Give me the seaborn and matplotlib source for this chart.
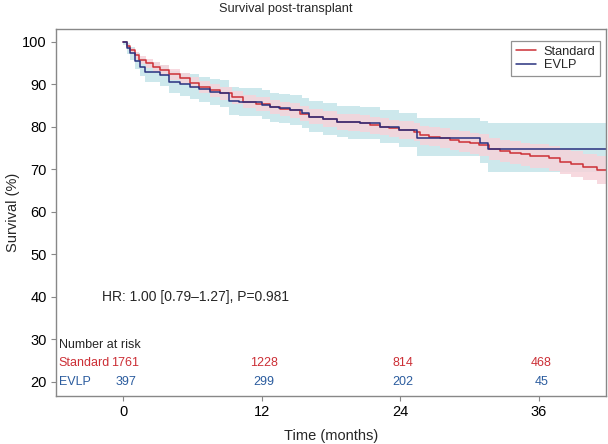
import pandas as pd
import seaborn as sns
import matplotlib.pyplot as plt

# Kaplan-Meier steps (months, % surviving)
std_t = [0, 0.3, 0.6, 1.0, 1.4, 2.0, 2.6, 3.2, 4.0, 4.9, 5.8, 6.6, 7.5, 8.4, 9.4, 10.4,
         11.5, 12.7, 13.6, 14.4, 15.3, 16.1, 17.3, 18.5, 19.5, 20.5, 21.4, 22.2, 23.0,
         23.9, 25.2, 25.7, 26.5, 27.4, 28.3, 29.1, 30.0, 30.8, 31.7, 32.6, 33.5, 34.4,
         35.2, 36.9, 37.8, 38.8, 39.8, 41.0, 41.8]
std_s = [100, 99.0, 98.0, 96.9, 95.7, 94.9, 94.1, 93.3, 92.3, 91.4, 90.4, 89.4, 88.6,
         87.9, 86.9, 85.9, 85.3, 84.6, 84.2, 83.9, 83.1, 82.4, 81.8, 81.2, 81.0, 80.8,
         80.4, 80.0, 79.6, 79.2, 78.8, 78.0, 77.7, 77.3, 76.9, 76.5, 76.1, 75.7, 74.7,
         74.3, 73.9, 73.5, 73.1, 72.6, 71.8, 71.2, 70.6, 69.8, 69.8]
std_lo = [100, 98.5, 97.3, 96.0, 94.7, 93.8, 92.9, 92.1, 91.0, 90.1, 89.0, 88.0, 87.1,
          86.4, 85.3, 84.3, 83.6, 82.9, 82.5, 82.1, 81.3, 80.6, 79.9, 79.3, 79.1, 78.8,
          78.4, 78.0, 77.5, 77.1, 76.7, 75.8, 75.5, 75.0, 74.6, 74.1, 73.7, 73.2, 72.1,
          71.7, 71.2, 70.8, 70.3, 69.7, 68.8, 68.2, 67.5, 66.6, 66.6]
std_hi = [100, 99.4, 98.6, 97.7, 96.6, 95.9, 95.2, 94.5, 93.5, 92.7, 91.7, 90.8, 90.0,
          89.4, 88.4, 87.5, 86.9, 86.3, 85.9, 85.7, 84.9, 84.2, 83.7, 83.1, 82.9, 82.8,
          82.4, 82.0, 81.7, 81.3, 80.9, 80.2, 79.9, 79.6, 79.2, 78.9, 78.5, 78.2, 77.3,
          76.9, 76.6, 76.2, 75.9, 75.5, 74.8, 74.3, 73.7, 73.0, 73.0]

evlp_t = [0, 0.3, 0.58, 1.0, 1.44, 1.9, 3.2, 4.0, 4.9, 5.8, 6.6, 7.5, 8.4, 9.2, 10.0,
          11.0, 12.0, 12.7, 13.5, 14.4, 15.5, 16.1, 17.3, 18.5, 19.5, 20.5, 22.2, 23.9,
          25.4, 30.9, 31.6, 41.8]
evlp_s = [100, 98.5, 97.3, 95.5, 94.1, 92.9, 92.2, 90.6, 90.0, 89.4, 88.8, 88.2, 87.9,
          86.0, 85.9, 85.9, 85.2, 84.6, 84.3, 83.9, 83.2, 82.4, 81.8, 81.2, 81.0, 80.8,
          80.0, 79.2, 77.3, 76.1, 74.7, 74.7]
evlp_lo = [99.2, 97.2, 95.7, 93.6, 91.9, 90.5, 89.7, 87.9, 87.2, 86.5, 85.8, 85.1, 84.7,
           82.7, 82.6, 82.6, 81.8, 81.2, 80.8, 80.4, 79.6, 78.8, 78.1, 77.5, 77.2, 77.0,
           76.1, 75.2, 73.0, 71.5, 69.4, 69.4]
evlp_hi = [100, 99.6, 98.8, 97.3, 96.1, 95.2, 94.6, 93.2, 92.7, 92.3, 91.7, 91.2, 91.0,
           89.3, 89.2, 89.2, 88.6, 88.0, 87.8, 87.4, 86.7, 86.0, 85.5, 84.9, 84.8, 84.6,
           83.9, 83.2, 82.0, 81.4, 80.8, 80.8]

risk_times = [0, 12, 24, 36]
risk_std = [1761, 1228, 814, 468]
risk_evlp = [397, 299, 202, 45]

red = "#CC2F36"
blue = "#28317F"
blue_txt = "#2B5C9E"

sns.set_theme(style="white")
plt.rcParams['font.family'] = ['Liberation Sans', 'DejaVu Sans']

fig, ax = plt.subplots(figsize=(6.08, 4.44), dpi=100)
fig.subplots_adjust(left=56/608, right=606/608, top=1-29/444, bottom=1-396/444)

# bands first, EVLP (cyan) under Standard (pink)
ax.fill_between(evlp_t, evlp_lo, evlp_hi, step="post", color="#CDE8EC", lw=0)
ax.fill_between(std_t, std_lo, std_hi, step="post", color="#F6D3DA", alpha=0.85, lw=0)

df = pd.concat([
    pd.DataFrame({"t": std_t, "s": std_s, "group": "Standard"}),
    pd.DataFrame({"t": evlp_t, "s": evlp_s, "group": "EVLP"}),
])
sns.lineplot(data=df, x="t", y="s", hue="group", palette={"Standard": red, "EVLP": blue},
             estimator=None, drawstyle="steps-post", lw=1.1, ax=ax)

ax.set_xlim(-5.82, 41.8)
ax.set_ylim(16.64, 103.0)
ax.set_xticks(risk_times)
ax.set_yticks(range(20, 101, 10))
ax.tick_params(bottom=True, left=True, direction="out", length=3.5, width=0.8,
               color="#888888", labelsize=10.5, labelcolor="black", pad=3)
for sp in ax.spines.values():
    sp.set_color("#888888")
    sp.set_linewidth(1.0)

ax.set_xlabel("Time (months)", fontsize=10.5, labelpad=7)
ax.set_ylabel("Survival (%)", fontsize=10.5, labelpad=2)
fig.text(286/608, 1-9/444, "Survival post-transplant", ha="center", va="center", fontsize=9.2)

leg = ax.legend(loc="upper right", bbox_to_anchor=(0.989, 0.966), borderaxespad=0,
                fontsize=9.2, frameon=True, fancybox=False, edgecolor="#777777",
                handlelength=1.6, borderpad=0.35, labelspacing=0.12, handletextpad=0.6)
leg.get_frame().set_linewidth(0.9)
leg.set_title(None)

ax.text(-1.87, 40.0, "HR: 1.00 [0.79\u20131.27], P=0.981", fontsize=10, va="center", ha="left")

# number at risk table
ax.text(-5.6, 28.6, "Number at risk", fontsize=9, va="center", ha="left")
ax.text(-5.6, 24.3, "Standard", fontsize=9, va="center", ha="left", color=red)
ax.text(-5.6, 20.0, "EVLP", fontsize=9, va="center", ha="left", color=blue_txt)
for t, n1, n2 in zip(risk_times, risk_std, risk_evlp):
    ax.text(t + 0.2, 24.3, str(n1), fontsize=9, va="center", ha="center", color=red)
    ax.text(t + 0.2, 20.0, str(n2), fontsize=9, va="center", ha="center", color=blue_txt)

fig.savefig("out.png", dpi=100)
